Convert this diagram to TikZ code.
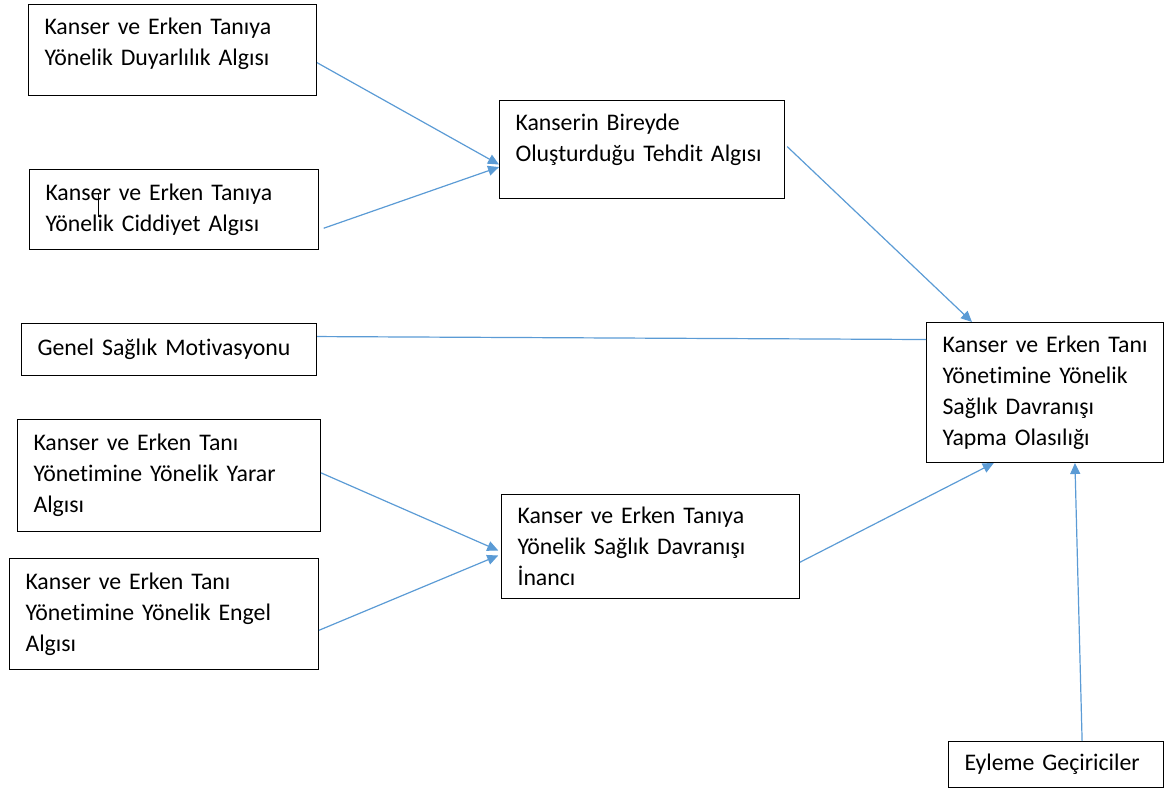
\documentclass[tikz,border=0pt]{standalone}
\usepackage{fontspec}
\setmainfont{Carlito}[Ligatures=NoCommon]
\usetikzlibrary{arrows.meta}
\definecolor{okmavi}{HTML}{5B9BD5}
\tikzset{
  kutu/.style={draw, line width=1pt, rectangle, align=left, inner xsep=16pt, inner ysep=0pt,
    anchor=north west, font=\fontsize{23.8}{31}\selectfont},
  ok/.style={draw=okmavi, line width=1.2pt, -{Triangle[length=11pt,width=10pt]}, okmavi}
}
\begin{document}
\begin{tikzpicture}[x=1pt,y=-1pt]
\useasboundingbox (0,0) rectangle (1164,789);

\node[kutu, text width=256pt, minimum height=91pt, text depth=47pt] (duyar) at (28,4) {Kanser ve Erken Tanıya\\Yönelik Duyarlılık Algısı};
\node[kutu, text width=257pt, minimum height=80pt] (ciddi) at (29,169) {Kanser ve Erken Tanıya\\Yönelik Ciddiyet Algısı};
\node[kutu, text width=263pt, minimum height=52pt] (motiv) at (21,323) {Genel Sağlık Motivasyonu};
\node[kutu, text width=271pt, minimum height=112pt] (yarar) at (17,419) {Kanser ve Erken Tanı\\Yönetimine Yönelik Yarar\\Algısı};
\node[kutu, text width=277pt, minimum height=111pt] (engel) at (9,558) {Kanser ve Erken Tanı\\Yönetimine Yönelik Engel\\Algısı};

\node[kutu, text width=253pt, minimum height=98pt, text depth=55pt] (tehdit) at (499,100) {Kanserin Bireyde\\Oluşturduğu Tehdit Algısı};
\node[kutu, text width=266pt, minimum height=104pt] (inanc) at (501,494) {Kanser ve Erken Tanıya\\Yönelik Sağlık Davranışı\\İnancı};

\node[kutu, text width=205pt, minimum height=140pt] (olasi) at (926,322) {\mbox{Kanser ve Erken Tanı}\\Yönetimine Yönelik\\Sağlık Davranışı\\Yapma Olasılığı};
\node[kutu, text width=183pt, minimum height=46pt] (eylem) at (948,741) {Eyleme Geçiriciler};

\draw[line width=0.8pt] (98,193) to (98,217);

\draw[ok] (duyar.-5.75) to (tehdit.-174.5);
\draw[ok, shorten <=5pt] (ciddi.-8.75) to (tehdit.-173.7);
\draw[ok, shorten <=3pt] (tehdit.2.75) to (olasi.136.4);
\draw[draw=okmavi, line width=1.2pt] (motiv.5) to (olasi.156.3);
\draw[ok, shorten >=3pt] (yarar.1.5) to (inanc.-178.1);
\draw[ok, shorten >=3pt] (engel.-6.8) to (inanc.-177.4);
\draw[ok] (inanc.-6.1) to (olasi.-126.5);
\draw[ok] (eylem.42) to (olasi.-67.1);
\end{tikzpicture}
\end{document}
